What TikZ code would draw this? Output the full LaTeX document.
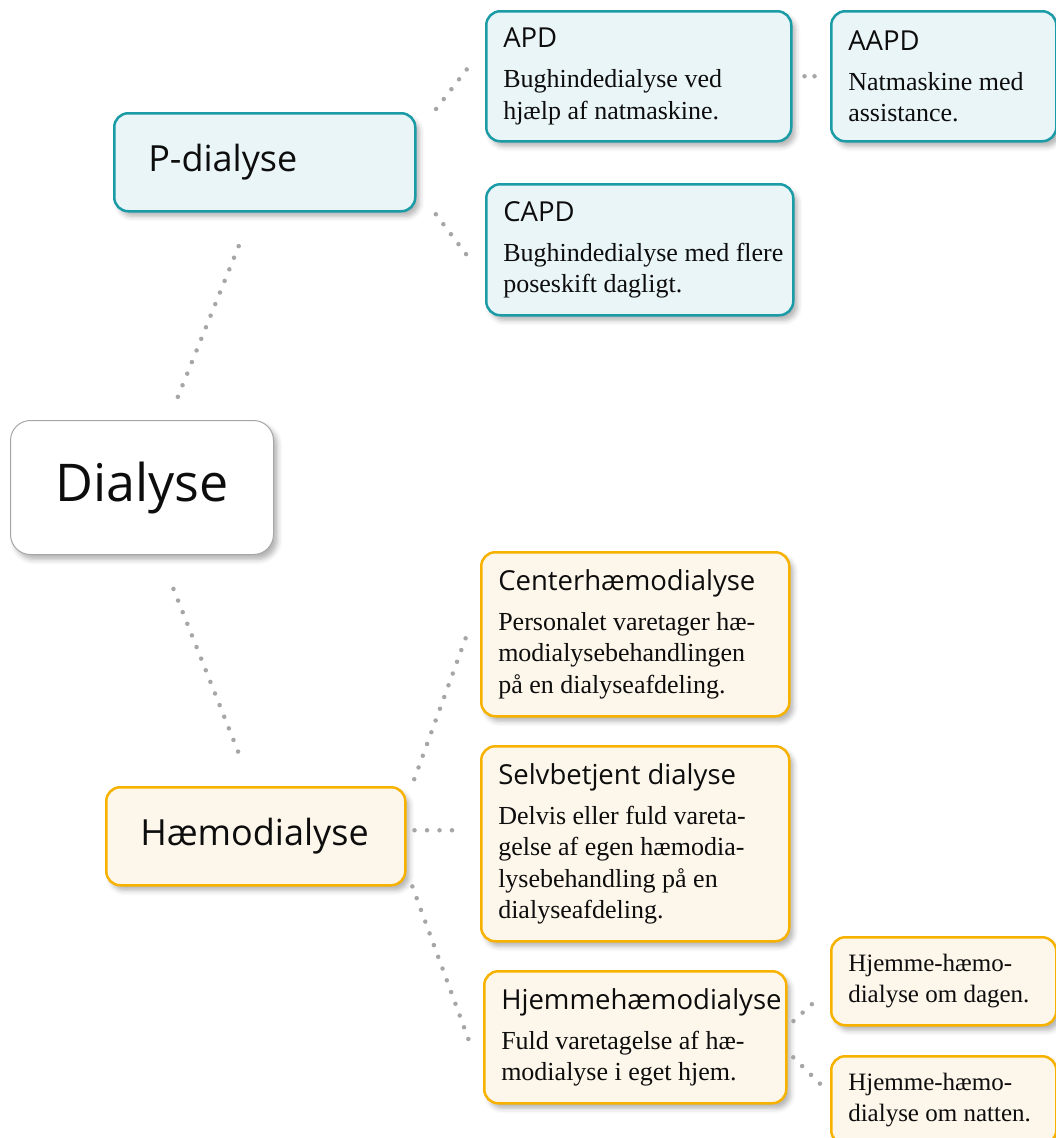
\documentclass[tikz,border=0pt]{standalone}
\usepackage{fontspec}
\setmainfont{Liberation Serif}
\newfontfamily\sansfam{Open Sans}
\usepackage{tikz}
\usetikzlibrary{shadows.blur,calc}

\definecolor{tealline}{HTML}{1A9BA6}
\definecolor{tealfill}{HTML}{EAF5F7}
\definecolor{amberline}{HTML}{F7B200}
\definecolor{amberfill}{HTML}{FDF6EA}
\definecolor{dotgray}{HTML}{A6A6A6}

\newcommand\ttlfont{\sansfam\fontsize{27.5}{33}\selectfont}
\newcommand\bodyfnt{\fontsize{26}{31.5}\selectfont}
\newcommand\smallfnt{\fontsize{25}{31}\selectfont}

\begin{document}
\begin{tikzpicture}[x=1pt, y=-1pt,
  box/.style={rounded corners=14pt, line width=2.5pt, inner xsep=17pt, inner ysep=0pt,
    align=flush left, anchor=north west, font=\bodyfnt, text=black!95,
    blur shadow={shadow xshift=4pt, shadow yshift=-5pt, shadow blur radius=5pt, shadow opacity=30}},
  pdbox/.style={box, draw=tealline, fill=tealfill},
  hdbox/.style={box, draw=amberline, fill=amberfill},
  link/.style={draw=dotgray, line width=4.5pt, line cap=round, dash pattern=on 0pt off 12.5pt}]
    \useasboundingbox (0,0) rectangle (1056,1138);
    \clip (0,0) rectangle (1056,1138);

    % Root
    \node[box, draw=black!35, line width=1pt, fill=white, rounded corners=20pt, inner xsep=0pt,
      align=center, text width=263pt, minimum width=263pt, minimum height=134pt,
      font=\sansfam\fontsize{52}{60}\selectfont] (dia) at (10,420) {Dialyse};

    % P-dialyse branch
    \node[pdbox, inner xsep=34pt, text width=233pt, minimum width=301pt, minimum height=98pt,
      font=\sansfam\fontsize{36}{42}\selectfont] (pd) at (113,112) {P-dialyse};
    \node[pdbox, text width=271pt, minimum width=305pt, minimum height=130pt] (apd) at (485,10)
      {{\ttlfont APD}\\[8.5pt] Bughindedialyse ved\\ hjælp af natmaskine.};
    \node[pdbox, text width=191pt, minimum width=225pt, minimum height=130pt] (aapd) at (830,10)
      {{\ttlfont AAPD}\\[8.5pt] Natmaskine med\\ assistance.};
    \node[pdbox, text width=273pt, minimum width=307pt, minimum height=131pt] (capd) at (485,183)
      {{\ttlfont CAPD}\\[8.5pt] \makebox[0pt][l]{Bughindedialyse med flere}\\ poseskift dagligt.};

    % Haemodialyse branch
    \node[hdbox, inner xsep=34pt, text width=231pt, minimum width=299pt, minimum height=98pt,
      font=\sansfam\fontsize{36}{42}\selectfont] (hd) at (105,786) {Hæmodialyse};
    \node[hdbox, text width=274pt, minimum width=308pt, minimum height=164pt] (chd) at (480,551)
      {{\ttlfont Centerhæmodialyse}\\[8.5pt] Personalet varetager hæ-\\ modialysebehandlingen\\ på en dialyseafdeling.};
    \node[hdbox, text width=274pt, minimum width=308pt, minimum height=195pt] (shd) at (480,745)
      {{\ttlfont Selvbetjent dialyse}\\[8.5pt] Delvis eller fuld vareta-\\ gelse af egen hæmodia-\\ lysebehandling på en\\ dialyseafdeling.};
    \node[hdbox, text width=268pt, minimum width=302pt, minimum height=132pt] (hhd) at (483,970)
      {{\ttlfont Hjemmehæmodialyse}\\[8.5pt] Fuld varetagelse af hæ-\\ modialyse i eget hjem.};
    \node[hdbox, font=\smallfnt, text width=191pt, minimum width=225pt, minimum height=88pt] (dag) at (830,936)
      {Hjemme-hæmo-\\ dialyse om dagen.};
    \node[hdbox, font=\smallfnt, text width=191pt, minimum width=225pt, minimum height=88pt] (nat) at (830,1055)
      {Hjemme-hæmo-\\ dialyse om natten.};

    % Dotted links
    \draw[link, shorten <=25pt, shorten >=29pt] ([xshift=26.5pt]dia.north) -- ([xshift=-12.5pt]pd.south);
    \draw[link, shorten <=36.5pt, shorten >=26pt] ([xshift=18pt]dia.south) -- ([xshift=-4pt]hd.north);
    \draw[link, shorten <=32pt, shorten >=29pt] ([yshift=28pt]pd.east) -- ([yshift=30.4pt]apd.west);
    \draw[link, shorten <=32pt, shorten >=29pt] ([yshift=-26.5pt]pd.east) -- ([yshift=-29.4pt]capd.west);
    \draw[link, dash pattern=on 0pt off 10pt, shorten <=12pt, shorten >=7pt] (apd.east) -- (aapd.west);
    \draw[link, shorten <=22.6pt, shorten >=37pt] ([yshift=35.8pt]hd.east) -- ([yshift=35.5pt]chd.west);
    \draw[link, shorten <=8pt, shorten >=17pt] ([yshift=6pt]hd.east) -- ([yshift=13.5pt]shd.west);
    \draw[link, shorten <=17pt, shorten >=42pt] ([yshift=-34.2pt]hd.east) -- ([yshift=-41.6pt]hhd.west);
    \draw[link, shorten <=8pt, shorten >=13pt] ([yshift=10.8pt]hhd.east) -- ([yshift=-6.4pt]dag.west);
    \draw[link, shorten <=8pt, shorten >=13.6pt] ([yshift=-14.4pt]hhd.east) -- ([yshift=6.7pt]nat.west);
\end{tikzpicture}
\end{document}
